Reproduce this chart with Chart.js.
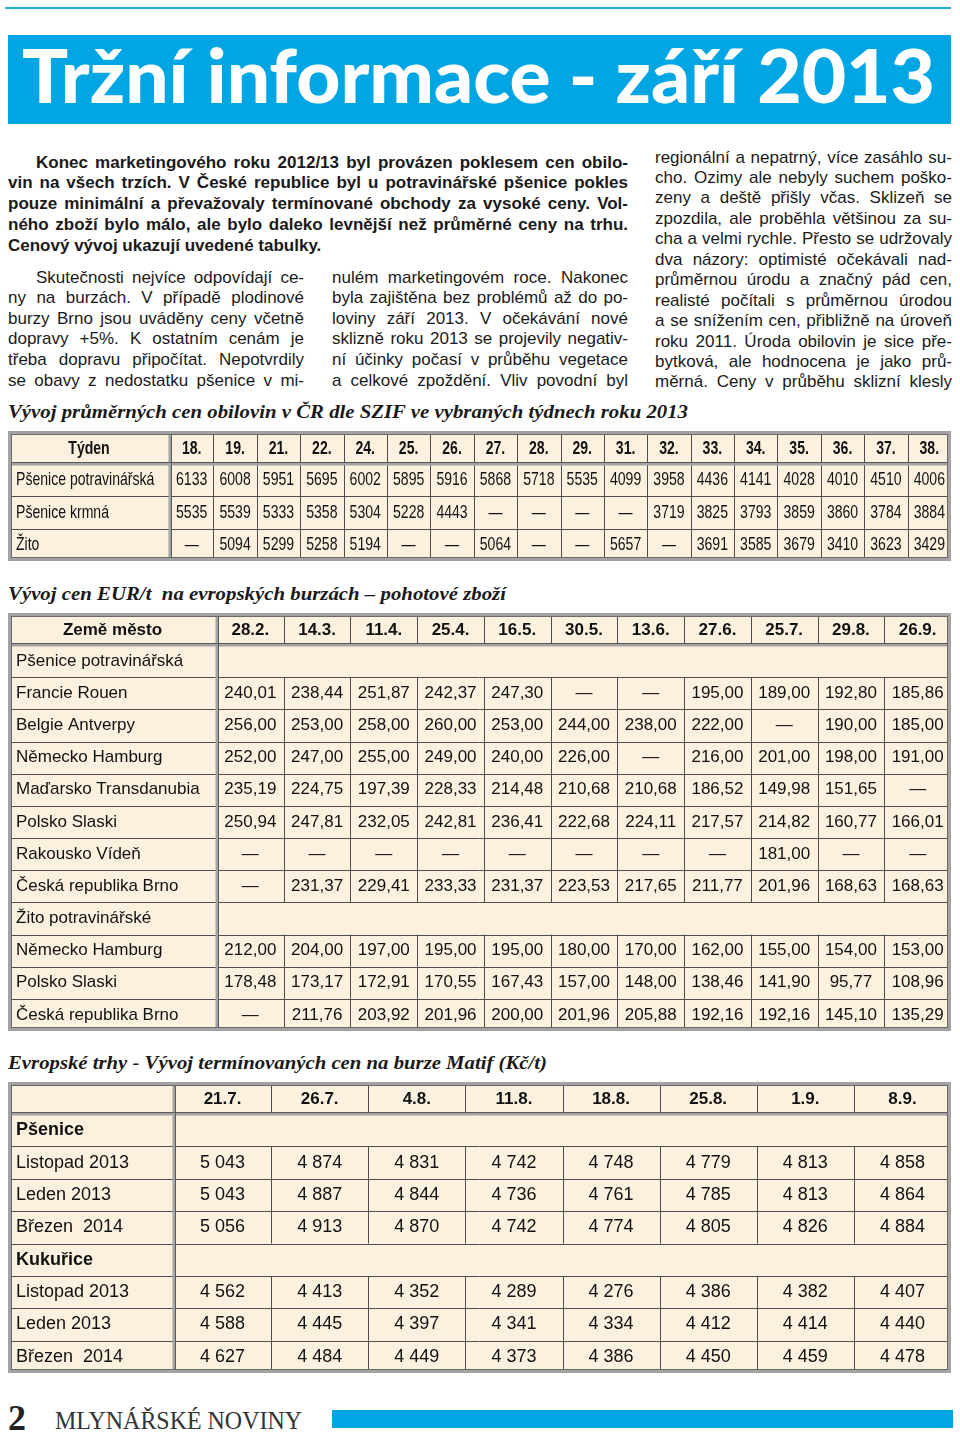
<!DOCTYPE html>
<html lang="cs">
<head>
<meta charset="utf-8">
<title>Tržní informace - září 2013</title>
<script src="https://cdn.jsdelivr.net/npm/chart.js@4.4.0/dist/chart.umd.min.js"></script>
<style>
  html, body { margin: 0; padding: 0; background: #fff; }
  body { position: relative; width: 960px; height: 1436px; overflow: hidden;
         font-family: 'Liberation Sans', Arial, sans-serif; color: #1a1a1a; }
  .abs { position: absolute; }
  .ln { position: absolute; height: 21px; line-height: 21px; font-size: 17px; white-space: nowrap; }
  .b { font-weight: bold; }
  .cap { font-family: 'Liberation Serif', serif; font-weight: bold; font-style: italic; font-size: 19px; }
  .tbl { position: absolute; left: 8px; width: 943px; }
  .tbl canvas { display: block; }
</style>
</head>
<body>
<div class="abs" style="left:5px;top:7px;width:946px;height:2px;background:#27a9dc"></div>
<div class="abs" style="left:8px;top:35px;width:943px;height:89px;background:#00a6e4"></div>
<div class="ln" id="title" style="left:22px;top:33px;width:913px;height:84px;line-height:84px;font-size:74px;font-family:Lato,'Open Sans',sans-serif;font-weight:900;color:#fff"><span>Tržní informace - září 2013</span></div>

<div id="text"></div>

<div class="ln cap" id="cap1" style="left:8px;top:401px;width:680px"><span>Vývoj průměrných cen obilovin v ČR dle SZIF ve vybraných týdnech roku 2013</span></div>
<div class="tbl" style="top:431px;height:130px"><canvas id="t1" width="943" height="130"></canvas></div>

<div class="ln cap" id="cap2" style="left:8px;top:583px;width:498px"><span>Vývoj cen EUR/t&nbsp; na evropských burzách – pohotové zboží</span></div>
<div class="tbl" style="top:613px;height:418px"><canvas id="t2" width="943" height="418"></canvas></div>

<div class="ln cap" id="cap3" style="left:8px;top:1052px;width:539px"><span>Evropské trhy - Vývoj termínovaných cen na burze Matif (Kč/t)</span></div>
<div class="tbl" style="top:1082px;height:291px"><canvas id="t3" width="943" height="291"></canvas></div>

<div class="ln" id="pg" style="left:8px;top:1400px;height:36px;line-height:36px;font-size:36px;font-family:'Liberation Serif',serif;font-weight:bold;color:#222"><span>2</span></div>
<div class="ln" id="mast" style="left:55px;top:1408px;width:247px;height:26px;line-height:26px;font-size:26px;font-family:'Liberation Serif',serif;color:#333"><span>MLYNÁŘSKÉ NOVINY</span></div>
<div class="abs" style="left:332px;top:1410px;width:621px;height:18px;background:#00a6e4"></div>

<script>
// ---- tabulka 1: SZIF, Kč/t ----
const weeks = ['18.', '19.', '21.', '22.', '24.', '25.', '26.', '27.', '28.', '29.', '31.', '32.', '33.', '34.', '35.', '36.', '37.', '38.'];
const szifRows = ['Pšenice potravinářská', 'Pšenice krmná', 'Žito'];
const psenicePotravinarska = [6133, 6008, 5951, 5695, 6002, 5895, 5916, 5868, 5718, 5535, 4099, 3958, 4436, 4141, 4028, 4010, 4510, 4006];
const pseniceKrmna = [5535, 5539, 5333, 5358, 5304, 5228, 4443, null, null, null, null, 3719, 3825, 3793, 3859, 3860, 3784, 3884];
const zito = [null, 5094, 5299, 5258, 5194, null, null, 5064, null, null, 5657, null, 3691, 3585, 3679, 3410, 3623, 3429];

// ---- tabulka 2: evropské burzy, EUR/t ----
const eurDates = ['28.2.', '14.3.', '11.4.', '25.4.', '16.5.', '30.5.', '13.6.', '27.6.', '25.7.', '29.8.', '26.9.'];
const eurRows = ['Pšenice potravinářská', 'Francie Rouen', 'Belgie Antverpy', 'Německo Hamburg', 'Maďarsko Transdanubia',
  'Polsko Slaski', 'Rakousko Vídeň', 'Česká republika Brno', 'Žito potravinářské', 'Německo Hamburg', 'Polsko Slaski', 'Česká republika Brno'];
const francieRouen = [240.01, 238.44, 251.87, 242.37, 247.30, null, null, 195.00, 189.00, 192.80, 185.86];
const belgieAntverpy = [256.00, 253.00, 258.00, 260.00, 253.00, 244.00, 238.00, 222.00, null, 190.00, 185.00];
const nemeckoHamburgP = [252.00, 247.00, 255.00, 249.00, 240.00, 226.00, null, 216.00, 201.00, 198.00, 191.00];
const madarskoTransdanubia = [235.19, 224.75, 197.39, 228.33, 214.48, 210.68, 210.68, 186.52, 149.98, 151.65, null];
const polskoSlaskiP = [250.94, 247.81, 232.05, 242.81, 236.41, 222.68, 224.11, 217.57, 214.82, 160.77, 166.01];
const rakouskoViden = [null, null, null, null, null, null, null, null, 181.00, null, null];
const brnoPsenice = [null, 231.37, 229.41, 233.33, 231.37, 223.53, 217.65, 211.77, 201.96, 168.63, 168.63];
const nemeckoHamburgZ = [212.00, 204.00, 197.00, 195.00, 195.00, 180.00, 170.00, 162.00, 155.00, 154.00, 153.00];
const polskoSlaskiZ = [178.48, 173.17, 172.91, 170.55, 167.43, 157.00, 148.00, 138.46, 141.90, 95.77, 108.96];
const brnoZito = [null, 211.76, 203.92, 201.96, 200.00, 201.96, 205.88, 192.16, 192.16, 145.10, 135.29];

// ---- tabulka 3: Matif, Kč/t ----
const matifDates = ['21.7.', '26.7.', '4.8.', '11.8.', '18.8.', '25.8.', '1.9.', '8.9.'];
const matifRows = ['Pšenice', 'Listopad 2013', 'Leden 2013', 'Březen  2014', 'Kukuřice', 'Listopad 2013', 'Leden 2013', 'Březen  2014'];
const psListopad = [5043, 4874, 4831, 4742, 4748, 4779, 4813, 4858];
const psLeden = [5043, 4887, 4844, 4736, 4761, 4785, 4813, 4864];
const psBrezen = [5056, 4913, 4870, 4742, 4774, 4805, 4826, 4884];
const kuListopad = [4562, 4413, 4352, 4289, 4276, 4386, 4382, 4407];
const kuLeden = [4588, 4445, 4397, 4341, 4334, 4412, 4414, 4440];
const kuBrezen = [4627, 4484, 4449, 4373, 4386, 4450, 4459, 4478];

// ---- text článku ----
const introLines = [
  'Konec marketingového roku 2012/13 byl provázen poklesem cen obilo-',
  'vin na všech trzích. V České republice byl u potravinářské pšenice pokles',
  'pouze minimální a převažovaly termínované obchody za vysoké ceny. Vol-',
  'ného zboží bylo málo, ale bylo daleko levnější než průměrné ceny na trhu.',
  'Cenový vývoj ukazují uvedené tabulky.'];
const colA = [
  'Skutečnosti nejvíce odpovídají ce-',
  'ny na burzách. V případě plodinové',
  'burzy Brno jsou uváděny ceny včetně',
  'dopravy +5%. K ostatním cenám je',
  'třeba dopravu připočítat. Nepotvrdily',
  'se obavy z nedostatku pšenice v mi-'];
const colB = [
  'nulém marketingovém roce. Nakonec',
  'byla zajištěna bez problémů až do po-',
  'loviny září 2013. V očekávání nové',
  'sklizně roku 2013 se projevily negativ-',
  'ní účinky počasí v průběhu vegetace',
  'a celkové zpoždění. Vliv povodní byl'];
const colC = [
  'regionální a nepatrný, více zasáhlo su-',
  'cho. Ozimy ale nebyly suchem poško-',
  'zeny a deště přišly včas. Sklizeň se',
  'zpozdila, ale proběhla většinou za su-',
  'cha a velmi rychle. Přesto se udržovaly',
  'dva názory: optimisté očekávali nad-',
  'průměrnou úrodu a značný pád cen,',
  'realisté počítali s průměrnou úrodou',
  'a se snížením cen, přibližně na úroveň',
  'roku 2011. Úroda obilovin je sice pře-',
  'bytková, ale hodnocena je jako prů-',
  'měrná. Ceny v průběhu sklizní klesly'];

const textBox = document.getElementById('text');

function fitLine(el, w, mode) {
  const span = el.firstChild;
  const nat = span.getBoundingClientRect().width;
  if (mode === 'fit' || nat > w) {
    span.style.display = 'inline-block';
    span.style.transformOrigin = '0 50%';
    span.style.transform = 'scaleX(' + (w / nat) + ')';
  } else if (mode === 'just') {
    el.style.whiteSpace = 'normal';
    el.style.textAlign = 'justify';
    el.style.textAlignLast = 'justify';
  }
}

function placeLines(lines, left, width, top, step, bold, indent, lastPlain) {
  lines.forEach((t, i) => {
    const el = document.createElement('div');
    el.className = 'ln' + (bold ? ' b' : '');
    const l = i === 0 ? left + indent : left;
    const w = i === 0 ? width - indent : width;
    el.style.left = l + 'px';
    el.style.top = (top + i * step) + 'px';
    el.style.width = w + 'px';
    const span = document.createElement('span');
    span.textContent = t;
    el.appendChild(span);
    textBox.appendChild(el);
    fitLine(el, w, (lastPlain && i === lines.length - 1) ? 'none' : 'just');
  });
}

placeLines(introLines, 8, 620, 151.5, 20.75, true, 28, true);
placeLines(colA, 8, 296, 266.5, 20.6, false, 28, false);
placeLines(colB, 332, 296, 266.5, 20.6, false, 0, false);
placeLines(colC, 655, 297, 146.5, 20.45, false, 0, false);

fitLine(document.getElementById('title'), 913, 'fit');
['cap1', 'cap2', 'cap3', 'mast'].forEach(id => {
  const el = document.getElementById(id);
  fitLine(el, parseFloat(el.style.width), 'fit');
});

// ---- tabulky přes Chart.js ----
const cream = '#fcf1df';
const sans = "'Liberation Sans',Arial,sans-serif";

const tablePlugin = {
  id: 'tableGrid',
  beforeDraw(chart) {
    const {ctx, width, height} = chart;
    ctx.save();
    ctx.fillStyle = cream;
    ctx.fillRect(0, 0, width, height);
    ctx.restore();
  },
  afterDraw(chart, args, opts) {
    const {ctx, chartArea: a, width, height} = chart;
    const x = chart.scales.x, y = chart.scales.y;
    const nc = x.getLabels().length, nr = y.getLabels().length;
    const cw = x.getPixelForValue(1) - x.getPixelForValue(0);
    const rh = y.getPixelForValue(1) - y.getPixelForValue(0);
    const sections = opts.sections || [];
    const sq = opts.squeeze || 1;
    const line = (x1, y1, x2, y2) => { ctx.beginPath(); ctx.moveTo(x1, y1); ctx.lineTo(x2, y2); ctx.stroke(); };
    const put = (txt, px, py) => {
      ctx.save(); ctx.translate(px, py); ctx.scale(sq, 1); ctx.fillText(txt, 0, 0); ctx.restore();
    };
    ctx.save();
    ctx.strokeStyle = '#4d4d4d';
    ctx.lineWidth = 1;
    for (let r = 1; r < nr; r++) {
      const py = Math.round(y.getPixelForValue(r) - rh / 2) + 0.5;
      line(0, py, width, py);
    }
    for (let c = 1; c < nc; c++) {
      const px = Math.round(x.getPixelForValue(c) - cw / 2) + 0.5;
      line(px, 0, px, a.top);
      for (let r = 0; r < nr; r++) {
        if (sections.includes(r)) continue;
        const cy = y.getPixelForValue(r);
        line(px, cy - rh / 2, px, cy + rh / 2);
      }
    }
    // dvojité čáry záhlaví a prvního sloupce
    ctx.strokeStyle = '#a3a3a3';
    ctx.lineWidth = 3;
    line(0, a.top, width, a.top);
    line(a.left, 0, a.left, height);
    ctx.strokeStyle = '#5a5a5a';
    ctx.lineWidth = 1;
    line(0, a.top - 1.5, width, a.top - 1.5);
    line(a.left + 1.5, 0, a.left + 1.5, height);
    // vnější rámeček
    ctx.strokeStyle = '#a3a3a3';
    ctx.lineWidth = 3;
    ctx.strokeRect(1.5, 1.5, width - 3, height - 3);
    ctx.strokeStyle = '#6a6a6a';
    ctx.lineWidth = 1;
    ctx.strokeRect(3.5, 3.5, width - 7, height - 7);

    ctx.fillStyle = '#111';
    ctx.textAlign = 'center';
    ctx.textBaseline = 'middle';
    ctx.font = 'bold ' + opts.headSize + 'px ' + opts.family;
    if (opts.corner) put(opts.corner, a.left / 2, a.top / 2 + 1);
    if (opts.manualTicks) {
      // zúžené popisky (kondenzované písmo) kreslené podle pozic os
      x.getLabels().forEach((lab, c) => put(lab, x.getPixelForValue(c), a.top / 2 + 1));
      ctx.font = opts.size + 'px ' + opts.family;
      ctx.textAlign = 'left';
      y.getLabels().forEach((lab, r) => put(lab, y.left, y.getPixelForValue(r)));
      ctx.textAlign = 'center';
    }
    ctx.font = opts.size + 'px ' + opts.family;
    const ds = chart.data.datasets[0];
    chart.getDatasetMeta(0).data.forEach((el, i) => {
      put(ds.data[i].t, el.x, el.y);
    });
    ctx.restore();
  }
};

function makeTable(id, o) {
  const pts = [];
  o.values.forEach((series, r) => {
    if (!series) return;
    series.forEach((v, c) => pts.push({x: c, y: r, t: v == null ? '—' : o.fmt(v)}));
  });
  const padL = 8;
  const tickColor = o.squeeze ? 'rgba(0,0,0,0)' : '#111';
  return new Chart(document.getElementById(id), {
    type: 'scatter',
    data: {datasets: [{data: pts, parsing: false, pointRadius: 0, pointHoverRadius: 0}]},
    options: {
      responsive: false,
      animation: false,
      events: [],
      devicePixelRatio: 1,
      layout: {padding: {left: padL, top: 0, right: 0, bottom: 0}},
      plugins: {
        legend: {display: false},
        tooltip: {enabled: false},
        tableGrid: {sections: o.values.map((s, i) => s ? -1 : i).filter(i => i >= 0),
                    corner: o.corner, family: o.family, size: o.size, headSize: o.headSize,
                    squeeze: o.squeeze || 1, manualTicks: !!o.squeeze}
      },
      scales: {
        x: {
          type: 'category', position: 'top', labels: o.cols, offset: true, bounds: 'ticks',
          grid: {display: false, drawTicks: false}, border: {display: false},
          ticks: {autoSkip: false, maxRotation: 0, minRotation: 0, color: tickColor,
                  padding: o.headH / 2 - o.headSize * 0.6 - 1,
                  font: {family: o.family, size: o.headSize, weight: 'bold'}},
          afterFit: s => { s.height = o.headH; s.paddingLeft = 0; s.paddingRight = 0; }
        },
        y: {
          type: 'category', labels: o.rows, offset: true, bounds: 'ticks',
          grid: {display: false, drawTicks: false}, border: {display: false},
          ticks: {autoSkip: false, crossAlign: 'far', color: tickColor,
                  font: c => ({family: o.family, size: o.size,
                               weight: (o.boldSections && !o.values[c.index]) ? 'bold' : 'normal'})},
          afterFit: s => { s.width = o.firstW - padL; s.paddingTop = 0; s.paddingBottom = 0; }
        }
      }
    },
    plugins: [tablePlugin]
  });
}

const fmtInt = v => String(v);
const fmtEur = v => v.toFixed(2).replace('.', ',');
const fmtKc = v => Math.floor(v / 1000) + ' ' + String(v % 1000).padStart(3, '0');

makeTable('t1', {
  cols: weeks, rows: szifRows, values: [psenicePotravinarska, pseniceKrmna, zito],
  fmt: fmtInt, corner: 'Týden', family: sans, size: 19, headSize: 19, headH: 33, firstW: 162, squeeze: 0.74
});
makeTable('t2', {
  cols: eurDates, rows: eurRows,
  values: [null, francieRouen, belgieAntverpy, nemeckoHamburgP, madarskoTransdanubia, polskoSlaskiP,
           rakouskoViden, brnoPsenice, null, nemeckoHamburgZ, polskoSlaskiZ, brnoZito],
  fmt: fmtEur, corner: 'Země město', family: sans, size: 17, headSize: 17, headH: 32, firstW: 209
});
makeTable('t3', {
  cols: matifDates, rows: matifRows,
  values: [null, psListopad, psLeden, psBrezen, null, kuListopad, kuLeden, kuBrezen],
  fmt: fmtKc, corner: '', family: sans, size: 18, headSize: 17, headH: 32, firstW: 166, boldSections: true
});
</script>
</body>
</html>
